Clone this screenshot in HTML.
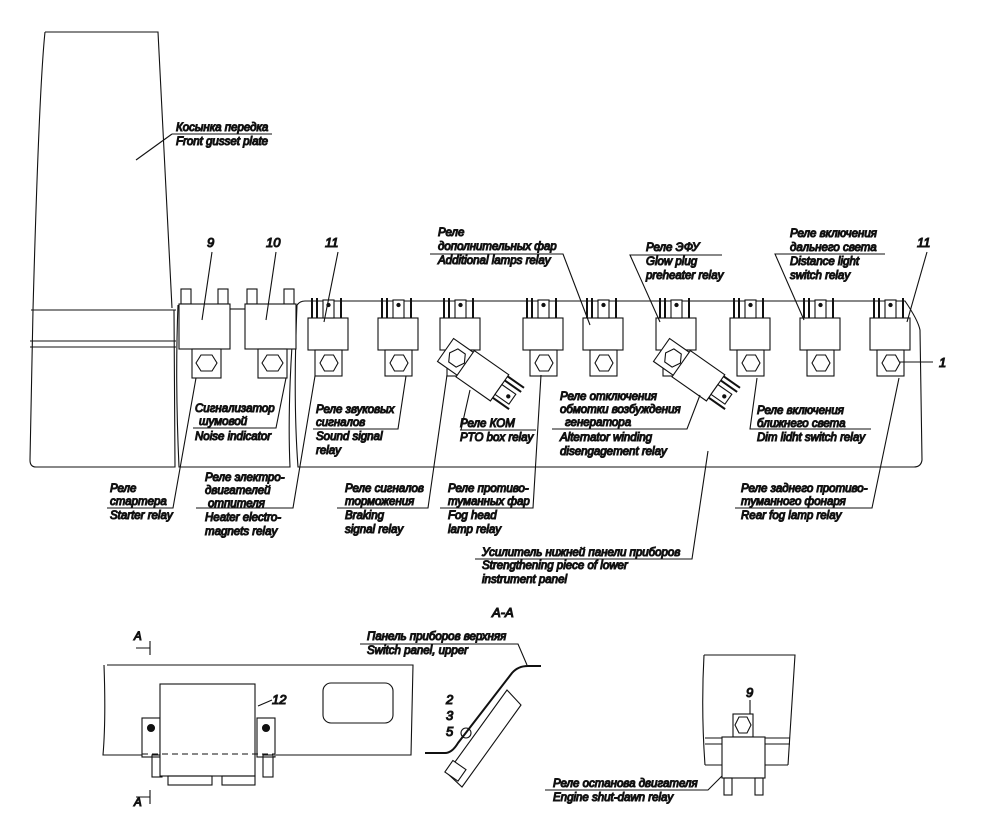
<!DOCTYPE html>
<html><head><meta charset="utf-8"><style>
html,body{margin:0;padding:0;background:#fff}
svg{display:block}
text{font-family:"Liberation Sans",sans-serif;font-style:italic;font-size:11.5px;fill:#111}
.n{font-size:13px}
</style></head><body>
<svg width="981" height="834" viewBox="0 0 981 834" xmlns="http://www.w3.org/2000/svg" fill="none" stroke="#111" stroke-width="1.1">
<defs>
<g id="r">
<rect x="0" y="0" width="40" height="32" fill="#fff"/>
<line x1="4" y1="-20" x2="4" y2="0" stroke-width="2"/>
<line x1="9" y1="-20" x2="9" y2="0" stroke-width="2"/>
<line x1="33" y1="-20" x2="33" y2="0" stroke-width="2"/>
<rect x="15" y="-18" width="11" height="18" fill="#fff"/>
<circle cx="20.5" cy="-13" r="1.6" fill="#111"/>
<rect x="7" y="32" width="27" height="26" fill="#fff"/>
<polygon points="12,45 16.5,37 25.5,37 30,45 25.5,53 16.5,53"/>
</g>
<g id="b">
<rect x="0" y="-15" width="10" height="15"/>
<rect x="37" y="-15" width="10" height="15"/>
<rect x="-2" y="0" width="51" height="45" fill="#fff"/>
<rect x="11" y="45" width="29" height="29" fill="#fff"/>
<polygon points="15,59 20,51 31,51 36,59 31,67 20,67"/>
</g>
<g id="rr">
<rect x="-14" y="-14" width="28" height="28" fill="#fff"/>
<polygon points="-9,0 -4.5,-8 4.5,-8 9,0 4.5,8 -4.5,8"/>
<rect x="10" y="-16" width="42" height="32" fill="#fff"/>
<line x1="52" y1="-14" x2="72" y2="-14" stroke-width="2"/>
<line x1="52" y1="-9" x2="72" y2="-9" stroke-width="2"/>
<line x1="52" y1="12" x2="72" y2="12" stroke-width="2"/>
<rect x="52" y="-4" width="17" height="12" fill="#fff"/>
<circle cx="64" cy="2" r="1.6" fill="#111"/>
</g>
</defs>

<!-- left gusset plate -->
<path d="M45,32 L158,32 L172,308 M45,32 C40,80 36,200 33,310 L30,460 Q30,467 36,467 L175,467 L174,310"/>
<line x1="31" y1="310" x2="176" y2="310"/>
<line x1="30" y1="341" x2="176" y2="341"/>
<line x1="30" y1="347" x2="176" y2="347"/>
<!-- section 2 -->
<path d="M178,305 Q175,380 179,467 L290,467 Q287,400 295,305"/>
<line x1="230" y1="309" x2="246" y2="309"/>
<!-- section 3 -->
<path d="M297,305 Q300,301 305,301 L905,301 Q918,320 920,330 L922,460 Q921,467 914,467 L298,467 Q293,400 297,305"/>

<!-- relays 9, 10 -->
<use href="#b" x="181" y="304"/>
<use href="#b" x="247" y="304"/>
<!-- small relays -->
<use href="#r" x="308" y="318"/>
<use href="#r" x="378" y="318"/>
<use href="#r" x="440" y="318"/>
<use href="#r" x="523" y="318"/>
<use href="#r" x="583" y="318"/>
<use href="#r" x="656" y="318"/>
<use href="#r" x="730" y="318"/>
<use href="#r" x="800" y="318"/>
<use href="#r" x="870" y="318"/>
<!-- rotated -->
<g transform="translate(457,358) rotate(35)"><use href="#rr"/></g>
<g transform="translate(673,358) rotate(35)"><use href="#rr"/></g>

<!-- number leaders -->
<line x1="212" y1="252" x2="202" y2="320"/>
<line x1="276" y1="252" x2="266" y2="320"/>
<line x1="338" y1="252" x2="324" y2="322"/>
<line x1="927" y1="252" x2="907" y2="322"/>
<line x1="900" y1="362" x2="933" y2="362"/>
<text class="n" x="207" y="247">9</text>
<text class="n" x="266" y="247">10</text>
<text class="n" x="325" y="247">11</text>
<text class="n" x="917" y="247">11</text>
<text class="n" x="939" y="367">1</text>

<!-- gusset label -->
<line x1="136" y1="160" x2="172" y2="134"/>
<line x1="172" y1="134" x2="272" y2="134"/>
<text x="176" y="131">Косынка передка</text>
<text x="176" y="145">Front gusset plate</text>

<!-- top labels -->
<text x="438" y="236">Реле</text>
<text x="438" y="250">дополнительных фар</text>
<text x="438" y="264">Additional lamps relay</text>
<polyline points="430,254 563,254 590,325"/>

<text x="646" y="251">Реле ЭФУ</text>
<text x="646" y="265">Glow plug</text>
<text x="646" y="279">preheater relay</text>
<polyline points="722,255 630,255 660,322"/>

<text x="790" y="237">Реле включения</text>
<text x="790" y="251">дальнего света</text>
<text x="790" y="265">Distance light</text>
<text x="790" y="279">switch relay</text>
<polyline points="885,254 775,254 804,320"/>

<!-- middle labels -->
<text x="195" y="412">Сигнализатор</text>
<text x="199" y="425">шумовой</text>
<text x="195" y="440">Noise indicator</text>
<polyline points="193,428 276,428 286,378"/>

<text x="316" y="413">Реле звуковых</text>
<text x="316" y="426">сигналов</text>
<text x="316" y="440">Sound signal</text>
<text x="316" y="454">relay</text>
<polyline points="313,429 398,429 406,376"/>

<text x="460" y="427">Реле КОМ</text>
<text x="460" y="441">PTO box relay</text>
<polyline points="460,430 536,430"/>
<line x1="461" y1="430" x2="470" y2="390"/>

<text x="560" y="400">Реле отключения</text>
<text x="560" y="413">обмотки возбуждения</text>
<text x="565" y="426">генератора</text>
<text x="560" y="441">Alternator winding</text>
<text x="560" y="455">disengagement relay</text>
<polyline points="552,429 687,429 700,395"/>

<text x="757" y="414">Реле включения</text>
<text x="757" y="427">ближнего света</text>
<text x="757" y="441">Dim lidht switch relay</text>
<polyline points="871,429 750,429 757,378"/>

<!-- lower labels -->
<text x="110" y="492">Реле</text>
<text x="110" y="505">стартера</text>
<text x="110" y="519">Starter relay</text>
<polyline points="107,508 173,508 196,378"/>

<text x="205" y="481">Реле электро-</text>
<text x="205" y="494">двигателей</text>
<text x="208" y="507">отпителя</text>
<text x="205" y="521">Heater electro-</text>
<text x="205" y="535">magnets relay</text>
<polyline points="196,508 293,508 315,376"/>

<text x="345" y="492">Реле сигналов</text>
<text x="345" y="505">торможения</text>
<text x="345" y="519">Braking</text>
<text x="345" y="533">signal relay</text>
<polyline points="337,508 428,508 447,375"/>

<text x="448" y="492">Реле противо-</text>
<text x="448" y="505">туманных фар</text>
<text x="448" y="519">Fog head</text>
<text x="448" y="533">lamp relay</text>
<polyline points="440,508 533,508 541,375"/>

<text x="741" y="492">Реле заднего противо-</text>
<text x="741" y="505">туманного фонаря</text>
<text x="741" y="519">Rear fog lamp relay</text>
<polyline points="735,508 872,508 899,378"/>

<text x="482" y="556">Усилитель нижней панели приборов</text>
<text x="482" y="569">Strengthening piece of lower</text>
<text x="482" y="583">instrument panel</text>
<polyline points="475,559 692,559 708,451"/>

<!-- bottom left -->
<text x="134" y="640">A</text>
<polyline points="136,648 150,648 150,641 150,655"/>
<text x="134" y="806">A</text>
<polyline points="136,797 150,797 150,790 150,804"/>
<path d="M107,665 L413,665 L411,755 L276,755 M158,755 L103,755 Q106,720 104,665"/>
<rect x="142" y="718" width="18" height="39" fill="#fff"/>
<rect x="257" y="718" width="18" height="39" fill="#fff"/>
<circle cx="151" cy="728" r="3.5" fill="#111"/>
<circle cx="266" cy="728" r="3.5" fill="#111"/>
<rect x="152" y="755" width="10" height="22"/>
<rect x="263" y="755" width="10" height="22"/>
<rect x="160" y="684" width="95" height="92" fill="#fff"/>
<line x1="142" y1="754" x2="275" y2="754" stroke-dasharray="6,4"/>
<rect x="168" y="776" width="44" height="9"/>
<rect x="222" y="776" width="33" height="9"/>
<rect x="323" y="683" width="70" height="40" rx="8"/>
<line x1="258" y1="706" x2="272" y2="700"/>
<text class="n" x="272" y="704">12</text>

<!-- section A-A -->
<text class="n" x="492" y="617">А-А</text>
<text x="367" y="640">Панель приборов верхняя</text>
<text x="367" y="654">Switch panel, upper</text>
<polyline points="360,644 518,644 527,665"/>
<path d="M425,753 L445,753 Q452,753 458,743 L512,673 Q518,666 528,666 L541,666" stroke-width="2"/>
<path d="M507,690 L521,705 L462,787 L447,773 Z" fill="#fff"/>
<rect x="-8" y="-6" width="16" height="14" transform="translate(456,770) rotate(35)" fill="#fff"/>
<circle cx="466" cy="733" r="5"/>
<text class="n" x="446" y="704">2</text>
<text class="n" x="446" y="720">3</text>
<text class="n" x="446" y="736">5</text>

<!-- bottom right -->
<path d="M704,655 L795,655 L788,765 M704,655 Q701,710 705,765"/>
<line x1="705" y1="738" x2="790" y2="738"/>
<line x1="705" y1="744" x2="790" y2="744"/>
<line x1="705" y1="765" x2="788" y2="765"/>
<rect x="733" y="714" width="20" height="23" fill="#fff"/>
<polygon points="735,725 739,717 747,717 751,725 747,733 739,733"/>
<line x1="750" y1="700" x2="750" y2="714"/>
<text class="n" x="746" y="697">9</text>
<rect x="722" y="737" width="43" height="41" fill="#fff"/>
<rect x="724" y="778" width="8" height="17"/>
<rect x="755" y="778" width="8" height="17"/>
<text x="553" y="787">Реле останова двигателя</text>
<text x="553" y="801">Engine shut-dawn relay</text>
<polyline points="545,790 708,790 722,776"/>
</svg>
</body></html>
